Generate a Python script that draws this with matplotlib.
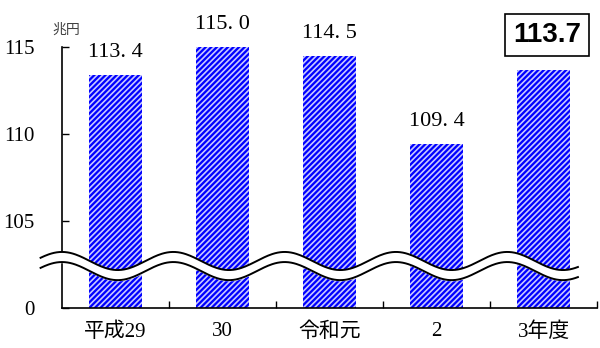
import matplotlib
matplotlib.use("Agg")
import matplotlib.pyplot as plt
import numpy as np

# 表示用データ
categories = ["平成29", "30", "令和元", "2", "3年度"]
values = [113.4, 115.0, 114.5, 109.4, 113.7]
value_labels = ["113. 4", "115. 0", "114. 5", "109. 4", "113. 7"]
ytick_values = [100, 105, 110, 115]
ytick_labels = ["0", "105", "110", "115"]

plt.rcParams['hatch.color'] = '#c8c8ff'
plt.rcParams['hatch.linewidth'] = 1.2

fig = plt.figure(figsize=(6.0, 3.48), dpi=100)
ax = fig.add_axes([0.1033, 0.115, 0.892, 0.75])

x = np.arange(len(categories))
base = 100
ax.bar(x, [v - base for v in values], bottom=base, width=0.5,
       color='#0000ff', edgecolor='#c8c8ff', linewidth=0, hatch='//////',
       zorder=2)

# 値ラベル（最後の年度は枠付き）
for i, (v, lab) in enumerate(zip(values[:-1], value_labels[:-1])):
    ax.text(i, v + 0.75, lab, ha='center', va='bottom', fontsize=16,
            family='Liberation Serif')
ax.text(4.03, 115.69, value_labels[-1].replace(" ", ""),
        ha='center', va='center', fontsize=20, fontweight='bold',
        family='Liberation Sans', clip_on=False,
        bbox=dict(boxstyle='square,pad=0.3', fc='white', ec='black', lw=1.2))

ax.set_xlim(-0.5, len(categories) - 0.5)
ax.set_ylim(base, 115)
ax.set_yticks(ytick_values)
ax.set_yticklabels(ytick_labels, family='Liberation Serif', fontsize=15)
ax.set_xticks(x + 0.5)
ax.set_xticklabels([])
ax.tick_params(axis='both', direction='in', length=5, width=1)
ax.tick_params(axis='y', pad=20)
for i, c in enumerate(categories):
    ax.text(i, -0.055, c, transform=ax.get_xaxis_transform(), ha='center',
            va='top', fontsize=15,
            family=['Liberation Serif', 'Noto Sans CJK JP'])

for s in ['top', 'right']:
    ax.spines[s].set_visible(False)
ax.spines['left'].set_linewidth(1.2)
ax.spines['bottom'].set_linewidth(1.2)

ax.text(-0.46, 115.98, "兆円", ha='center', va='center', fontsize=10,
        color='#404040', family='Noto Sans CJK JP', clip_on=False)

# 省略（波線）
xw = np.linspace(-0.7, 4.32, 400)
wave = 0.52 * np.cos(2 * np.pi * (xw + 0.5) / 1.04)
upper = 102.7 + wave
lower = 102.12 + wave
ax.fill_between(xw, lower, upper, color='white', zorder=3, clip_on=False)
ax.plot(xw, upper, color='black', lw=1.4, zorder=4, clip_on=False)
ax.plot(xw, lower, color='black', lw=1.4, zorder=4, clip_on=False)

fig.savefig("out.png", dpi=100)
